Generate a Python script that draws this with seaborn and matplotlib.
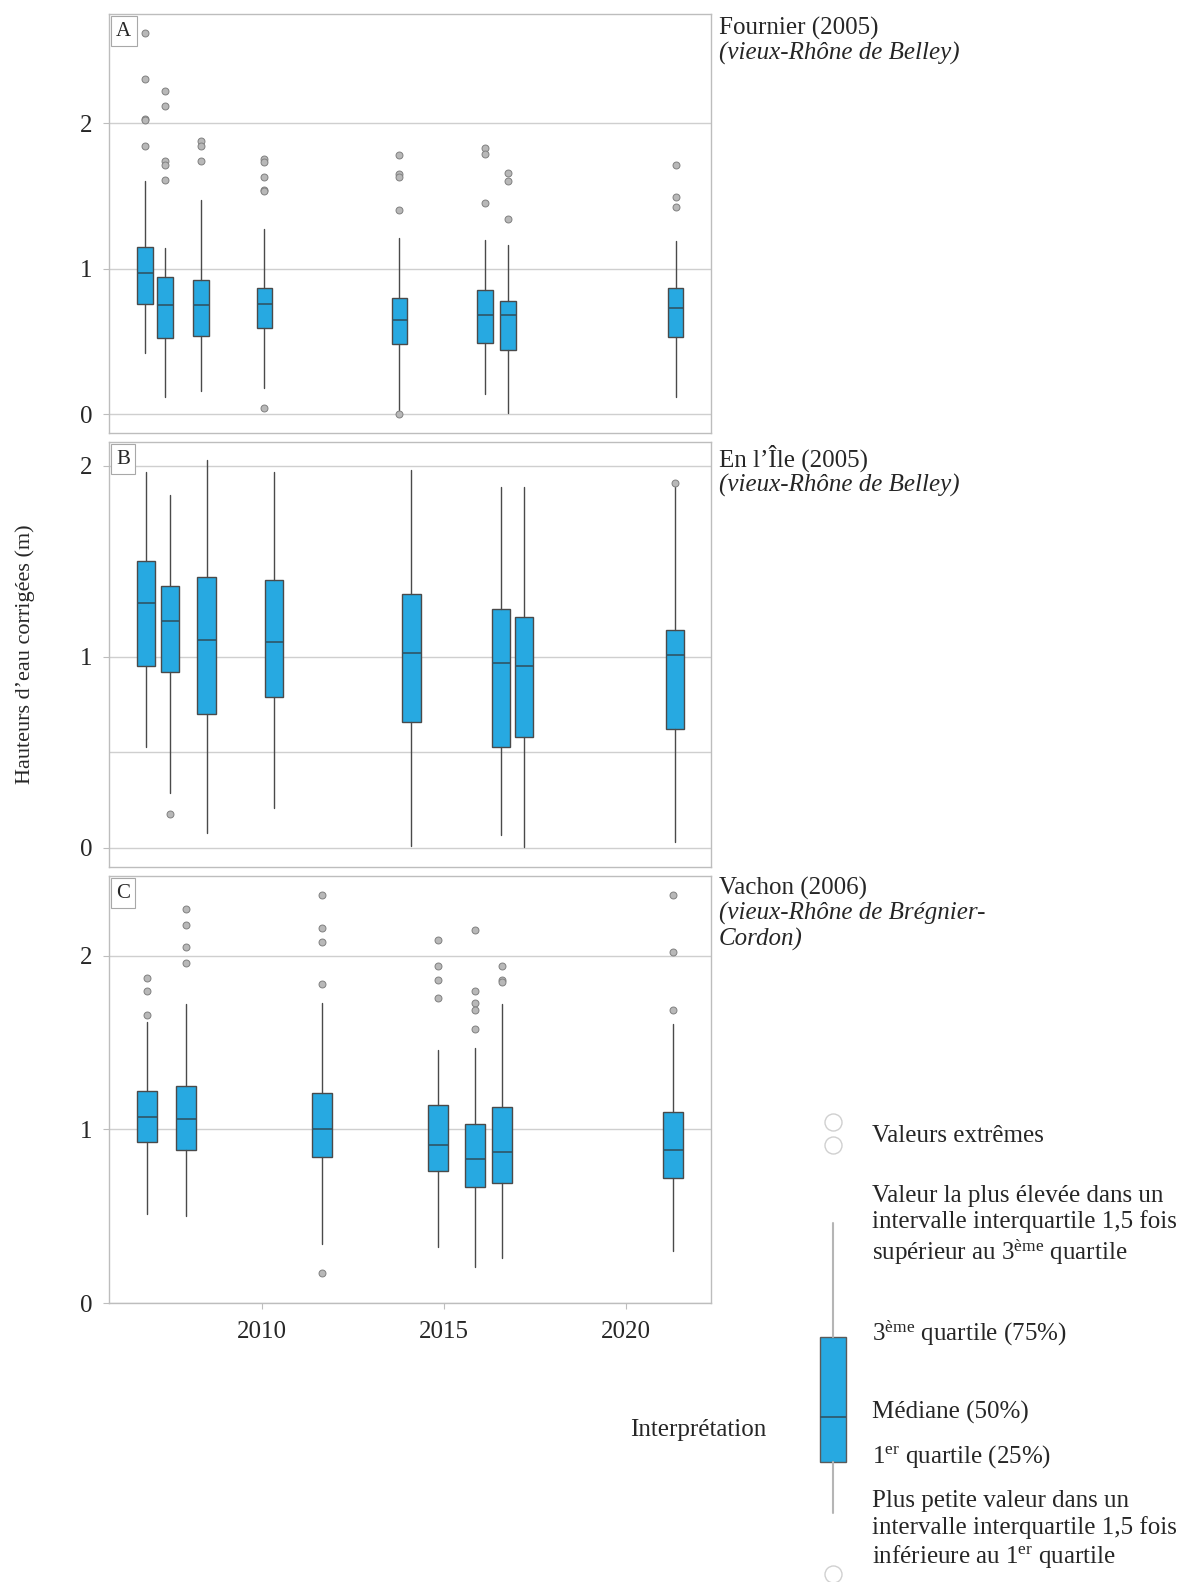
import matplotlib
matplotlib.use("Agg")
import matplotlib.pyplot as plt
import seaborn as sns

# ---------------------------------------------------------------------------- #
#                 Box statistics (metres)               #
# ---------------------------------------------------------------------------- #

# Panel A - Fournier (2005)
years_a = [2006.78, 2007.33, 2008.32, 2010.06, 2013.77, 2016.12, 2016.75, 2021.36]
lo_a = [0.42, 0.12, 0.16, 0.18, 0.03, 0.14, 0.01, 0.12]
q1_a = [0.76, 0.52, 0.54, 0.59, 0.48, 0.49, 0.44, 0.53]
med_a = [0.97, 0.75, 0.75, 0.76, 0.65, 0.68, 0.68, 0.73]
q3_a = [1.15, 0.94, 0.92, 0.87, 0.80, 0.85, 0.78, 0.87]
hi_a = [1.60, 1.14, 1.47, 1.27, 1.21, 1.20, 1.16, 1.19]
fliers_a = [
    [2.62, 2.30, 2.03, 2.02, 1.84],
    [2.22, 2.12, 1.74, 1.71, 1.61],
    [1.88, 1.84, 1.74],
    [1.75, 1.73, 1.63, 1.54, 1.53, 0.04],
    [1.78, 1.65, 1.63, 1.40, 0.0],
    [1.83, 1.79, 1.45],
    [1.66, 1.60, 1.34],
    [1.71, 1.49, 1.42],
]

# Panel B - En l'Île (2005)
years_b = [2006.80, 2007.46, 2008.47, 2010.33, 2014.10, 2016.56, 2017.20, 2021.33]
lo_b = [0.53, 0.29, 0.08, 0.21, 0.01, 0.07, 0.005, 0.03]
q1_b = [0.95, 0.92, 0.70, 0.79, 0.66, 0.53, 0.58, 0.62]
med_b = [1.28, 1.19, 1.09, 1.08, 1.02, 0.97, 0.95, 1.01]
q3_b = [1.50, 1.37, 1.42, 1.40, 1.33, 1.25, 1.21, 1.14]
hi_b = [1.97, 1.85, 2.03, 1.97, 1.98, 1.89, 1.89, 1.89]
fliers_b = [[], [0.18], [], [], [], [], [], [1.91]]

# Panel C - Vachon (2006)
years_c = [2006.84, 2007.90, 2011.63, 2014.83, 2015.85, 2016.60, 2021.29]
lo_c = [0.51, 0.50, 0.34, 0.32, 0.21, 0.26, 0.30]
q1_c = [0.93, 0.88, 0.84, 0.76, 0.67, 0.69, 0.72]
med_c = [1.07, 1.06, 1.00, 0.91, 0.83, 0.87, 0.88]
q3_c = [1.22, 1.25, 1.21, 1.14, 1.03, 1.13, 1.10]
hi_c = [1.62, 1.72, 1.73, 1.46, 1.47, 1.72, 1.61]
fliers_c = [
    [1.87, 1.80, 1.66],
    [2.27, 2.18, 2.05, 1.96],
    [2.35, 2.16, 2.08, 1.84, 0.17],
    [2.09, 1.94, 1.86, 1.76],
    [2.15, 1.80, 1.73, 1.69, 1.58],
    [1.94, 1.86, 1.85],
    [2.35, 2.02, 1.69],
]

panel_letters = ["A", "B", "C"]
site_names = ["Fournier (2005)", "En l\u2019\u00cele (2005)", "Vachon (2006)"]
site_rivers = [["(vieux-Rh\u00f4ne de Belley)"], ["(vieux-Rh\u00f4ne de Belley)"],
               ["(vieux-Rh\u00f4ne de Br\u00e9gnier-", "Cordon)"]]
x_ticks = [2010, 2015, 2020]
y_label = "Hauteurs d\u2019eau corrig\u00e9es (m)"

# Legend (schematic box in figure pixels)
legend_box = dict(whislo=1513, q1=1462, med=1417, q3=1337, whishi=1223, fliers=[])


def make_stats(lo, q1, med, q3, hi, fliers):
    return [dict(whislo=a, q1=b, med=c, q3=d, whishi=e, fliers=f)
            for a, b, c, d, e, f in zip(lo, q1, med, q3, hi, fliers)]


# ---------------------------------------------------------------------------- #
#                                   Styling                                    #
# ---------------------------------------------------------------------------- #
sns.set_style("white")
plt.rcParams["font.family"] = ["Liberation Serif", "DejaVu Serif"]
plt.rcParams["mathtext.fontset"] = "custom"
plt.rcParams["mathtext.rm"] = "Liberation Serif"
plt.rcParams["mathtext.it"] = "Liberation Serif:italic"

BLUE = "#27a9e1"
DARK = "#4a4a4a"
GRID = "#cfcfcf"
SPINE = "#bdbdbd"

W, H = 1182, 1582
fig = plt.figure(figsize=(W / 100, H / 100), dpi=100)


def px_axes(left, top, right, bottom):
    return fig.add_axes([left / W, 1 - bottom / H, (right - left) / W, (bottom - top) / H])


ax_a = px_axes(109, 14, 711, 433)
ax_b = px_axes(109, 442, 711, 867)
ax_c = px_axes(109, 876, 711, 1303)
axes = [ax_a, ax_b, ax_c]

panels = [
    (years_a, make_stats(lo_a, q1_a, med_a, q3_a, hi_a, fliers_a), 0.42, (-0.13, 2.75)),
    (years_b, make_stats(lo_b, q1_b, med_b, q3_b, hi_b, fliers_b), 0.50, (-0.10, 2.125)),
    (years_c, make_stats(lo_c, q1_c, med_c, q3_c, hi_c, fliers_c), 0.55, (0.0, 2.46)),
]

for i, (ax, (years, stats, width, ylim)) in enumerate(zip(axes, panels)):
    # Horizontal grid lines
    for g in [0, 1, 2]:
        ax.axhline(g, color=GRID, lw=1.0, zorder=0)
    if i == 1:
        ax.axhline(0.5, color=GRID, lw=1.0, zorder=0)

    ax.bxp(
        stats,
        positions=years,
        widths=width,
        patch_artist=True,
        showcaps=False,
        manage_ticks=False,
        boxprops=dict(facecolor=BLUE, edgecolor=DARK, linewidth=1.0),
        whiskerprops=dict(color=DARK, linewidth=1.0),
        medianprops=dict(color="#2f5566", linewidth=1.2),
        flierprops=dict(marker="o", markersize=5, markerfacecolor="#b8b8b8",
                        markeredgecolor="#808080", markeredgewidth=0.7),
    )

    ax.set_xlim(2005.79, 2022.33)
    ax.set_ylim(*ylim)
    ax.set_yticks([0, 1, 2])
    ax.set_yticklabels(["0", "1", "2"], fontsize=18)
    ax.tick_params(axis="y", length=4, width=0.8, color=SPINE, pad=8, left=True)
    for sp in ax.spines.values():
        sp.set_color(SPINE)
        sp.set_linewidth(1.0)

    if i < 2:
        ax.set_xticks([])
    else:
        ax.set_xticks(x_ticks)
        ax.set_xticklabels([str(t) for t in x_ticks], fontsize=18)
        ax.tick_params(axis="x", length=4, width=0.8, color=SPINE, pad=9, bottom=True)

    # Panel letter in a small box
    ax.text(0.012, 0.982, panel_letters[i], transform=ax.transAxes, ha="left", va="top",
            fontsize=15, bbox=dict(boxstyle="square,pad=0.25", fc="white", ec="#a8a8a8", lw=0.8))

fig.text(25 / W, 1 - 654 / H, y_label, rotation=90, ha="center", va="center", fontsize=16)

# ---------------------------------------------------------------------------- #
#                   Overlay in figure pixels: site names, legend               #
# ---------------------------------------------------------------------------- #
leg = fig.add_axes([0, 0, 1, 1])
leg.set_xlim(0, W)
leg.set_ylim(H, 0)
leg.axis("off")
leg.patch.set_alpha(0)

# baselines of the site captions
name_y = [35, 467, 895]
for name, rivers, y in zip(site_names, site_rivers, name_y):
    leg.text(719, y, name, fontsize=18, va="baseline")
    for k, line in enumerate(rivers):
        leg.text(719, y + 25 + 26 * k, line, fontsize=18, style="italic", va="baseline")

leg.bxp(
    [legend_box],
    positions=[833],
    widths=26,
    patch_artist=True,
    showcaps=False,
    manage_ticks=False,
    boxprops=dict(facecolor=BLUE, edgecolor="#5a5a5a", linewidth=1.0),
    whiskerprops=dict(color="#b5b5b5", linewidth=1.5),
    medianprops=dict(color="#2f5566", linewidth=1.2),
)
leg.scatter([833, 833, 833], [1122, 1145, 1574], s=150, facecolor="white",
            edgecolor="#d0d0d0", linewidth=1.0, clip_on=False)

tx = 872
leg.text(tx, 1136, "Valeurs extr\u00eames", fontsize=18, va="center")
leg.text(tx, 1226, "Valeur la plus \u00e9lev\u00e9e dans un\nintervalle interquartile 1,5 fois\n"
         "sup\u00e9rieur au 3$^{\\mathrm{\u00e8me}}$ quartile",
         fontsize=18, va="center", linespacing=1.2)
leg.text(tx, 1333, "3$^{\\mathrm{\u00e8me}}$ quartile (75%)", fontsize=18, va="center")
leg.text(tx, 1412, "M\u00e9diane (50%)", fontsize=18, va="center")
leg.text(tx, 1457, "1$^{\\mathrm{er}}$ quartile (25%)", fontsize=18, va="center")
leg.text(tx, 1530, "Plus petite valeur dans un\nintervalle interquartile 1,5 fois\n"
         "inf\u00e9rieure au 1$^{\\mathrm{er}}$ quartile",
         fontsize=18, va="center", linespacing=1.2)
leg.text(698, 1430, "Interpr\u00e9tation", fontsize=18, ha="center", va="center")

fig.savefig("out.png", dpi=100)
